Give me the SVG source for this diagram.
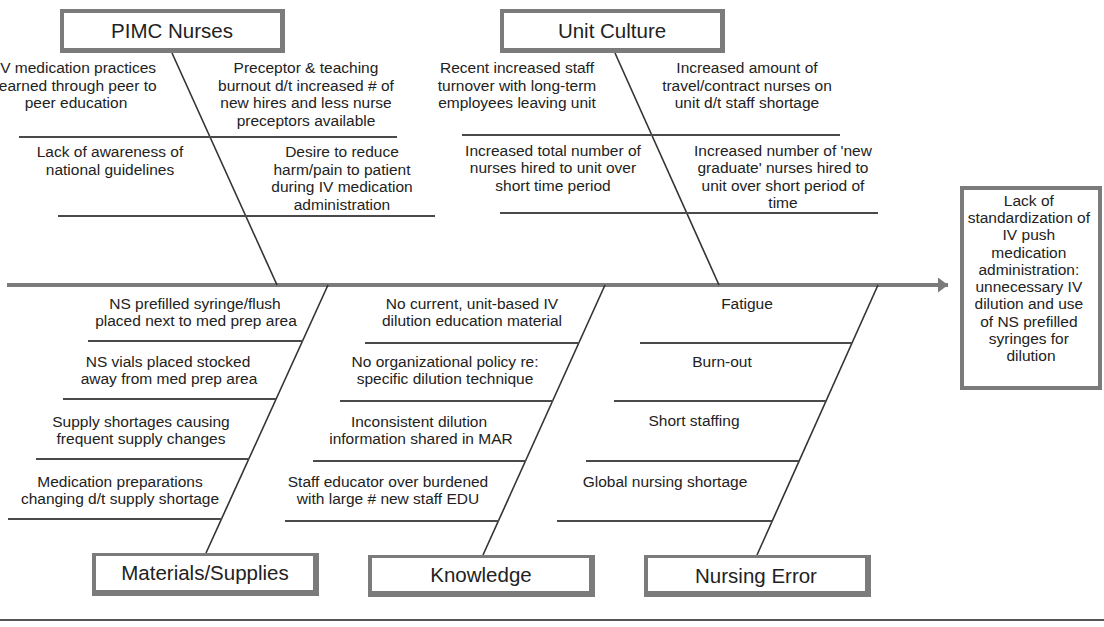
<svg xmlns="http://www.w3.org/2000/svg" width="1104" height="627" viewBox="0 0 1104 627">
<defs>
<style>
text{font-family:"Liberation Sans",Arial,sans-serif;fill:#222;text-anchor:middle}
.c{font-size:15.5px}
.t{font-size:20.5px}
.spine{stroke:#333;stroke-width:1.6;fill:none}
.sub{stroke:#4a4a4a;stroke-width:2;fill:none}
.box-o{fill:#7b7b7b}
.box-i{fill:#fff}
</style>
<marker id="ah" markerWidth="10" markerHeight="15" refX="10" refY="7.5" orient="auto" markerUnits="userSpaceOnUse">
<path d="M0,0 L10,7.5 L0,15 Z" fill="#7b7b7b"/>
</marker>
</defs>
<rect width="1104" height="627" fill="#fff"/>

<g id="connectors">
<line x1="7" y1="285" x2="948" y2="285" stroke="#7b7b7b" stroke-width="4" marker-end="url(#ah)"/>
<line class="spine" x1="172" y1="53" x2="277" y2="285"/>
<line class="spine" x1="615" y1="53" x2="719" y2="285"/>
<line class="spine" x1="328" y1="285" x2="206" y2="553"/>
<line class="spine" x1="605" y1="285" x2="483" y2="555"/>
<line class="spine" x1="878" y1="285" x2="757" y2="555"/>
<line class="sub" x1="19" y1="137" x2="397" y2="137"/>
<line class="sub" x1="58" y1="216" x2="435" y2="216"/>
<line class="sub" x1="462" y1="135" x2="840" y2="135"/>
<line class="sub" x1="500" y1="213" x2="878" y2="213"/>
<line class="sub" x1="88" y1="341" x2="303" y2="341"/>
<line class="sub" x1="63" y1="399" x2="276" y2="399"/>
<line class="sub" x1="36" y1="459" x2="249" y2="459"/>
<line class="sub" x1="8" y1="519" x2="222" y2="519"/>
<line class="sub" x1="365" y1="343" x2="579" y2="343"/>
<line class="sub" x1="340" y1="401" x2="553" y2="401"/>
<line class="sub" x1="313" y1="461" x2="526" y2="461"/>
<line class="sub" x1="285" y1="521" x2="499" y2="521"/>
<line class="sub" x1="640" y1="343" x2="852" y2="343"/>
<line class="sub" x1="614" y1="401" x2="826" y2="401"/>
<line class="sub" x1="586" y1="461" x2="799" y2="461"/>
<line class="sub" x1="557" y1="521" x2="772" y2="521"/>
<line x1="0" y1="620" x2="1104" y2="620" stroke="#555" stroke-width="2"/>
</g>

<g id="pimc-nurses">
<rect class="box-o" x="60" y="9" width="225" height="44"/>
<rect class="box-i" x="64" y="13" width="216" height="35"/>
<text class="t" x="172" y="38">PIMC Nurses</text>
</g>
<g id="unit-culture">
<rect class="box-o" x="500" y="9" width="225" height="44"/>
<rect class="box-i" x="504" y="13" width="216" height="35"/>
<text class="t" x="612" y="38">Unit Culture</text>
</g>
<g id="materials-supplies">
<rect class="box-o" x="92" y="553" width="227" height="43"/>
<rect class="box-i" x="96" y="556" width="217" height="34"/>
<text class="t" x="205" y="580">Materials/Supplies</text>
</g>
<g id="knowledge">
<rect class="box-o" x="368" y="555" width="227" height="42"/>
<rect class="box-i" x="372" y="558" width="217" height="33"/>
<text class="t" x="481" y="582">Knowledge</text>
</g>
<g id="nursing-error">
<rect class="box-o" x="644" y="555" width="227" height="42"/>
<rect class="box-i" x="648" y="558" width="217" height="33"/>
<text class="t" x="756" y="583">Nursing Error</text>
</g>
<g id="effect">
<rect class="box-o" x="960" y="186" width="142" height="204"/>
<rect class="box-i" x="964" y="190" width="134" height="196"/>
<text class="c">
<tspan x="1031" y="205.7">Lack of</tspan>
<tspan x="1031" y="223">standardization of</tspan>
<tspan x="1031" y="240.2">IV push</tspan>
<tspan x="1031" y="257.5">medication</tspan>
<tspan x="1031" y="274.7">administration:</tspan>
<tspan x="1031" y="292">unnecessary IV</tspan>
<tspan x="1031" y="309.3">dilution and use</tspan>
<tspan x="1031" y="326.5">of NS prefilled</tspan>
<tspan x="1031" y="343.8">syringes for</tspan>
<tspan x="1031" y="361">dilution</tspan>
</text>
</g>

<g id="cause-pimc-1"><text class="c"><tspan x="76" y="73">IV medication practices</tspan><tspan x="76" y="90.5">learned through peer to</tspan><tspan x="76" y="108">peer education</tspan></text></g>
<g id="cause-pimc-2"><text class="c"><tspan x="306" y="73">Preceptor &amp; teaching</tspan><tspan x="306" y="90.5">burnout d/t increased # of</tspan><tspan x="306" y="108">new hires and less nurse</tspan><tspan x="306" y="125.5">preceptors available</tspan></text></g>
<g id="cause-pimc-3"><text class="c"><tspan x="110" y="157">Lack of awareness of</tspan><tspan x="110" y="174.5">national guidelines</tspan></text></g>
<g id="cause-pimc-4"><text class="c"><tspan x="342" y="157">Desire to reduce</tspan><tspan x="342" y="174.5">harm/pain to patient</tspan><tspan x="342" y="192">during IV medication</tspan><tspan x="342" y="209.5">administration</tspan></text></g>

<g id="cause-unit-1"><text class="c"><tspan x="517" y="73">Recent increased staff</tspan><tspan x="517" y="90.5">turnover with long-term</tspan><tspan x="517" y="108">employees leaving unit</tspan></text></g>
<g id="cause-unit-2"><text class="c"><tspan x="747" y="73">Increased amount of</tspan><tspan x="747" y="90.5">travel/contract nurses on</tspan><tspan x="747" y="108">unit d/t staff shortage</tspan></text></g>
<g id="cause-unit-3"><text class="c"><tspan x="553" y="155.5">Increased total number of</tspan><tspan x="553" y="173">nurses hired to unit over</tspan><tspan x="553" y="190.5">short time period</tspan></text></g>
<g id="cause-unit-4"><text class="c"><tspan x="783" y="155.5">Increased number of 'new</tspan><tspan x="783" y="173">graduate' nurses hired to</tspan><tspan x="783" y="190.5">unit over short period of</tspan><tspan x="783" y="208">time</tspan></text></g>

<g id="cause-mat-1"><text class="c"><tspan x="195" y="308.5">NS prefilled syringe/flush</tspan><tspan x="196" y="326">placed next to med prep area</tspan></text></g>
<g id="cause-mat-2"><text class="c"><tspan x="168" y="366.5">NS vials placed stocked</tspan><tspan x="169" y="384">away from med prep area</tspan></text></g>
<g id="cause-mat-3"><text class="c"><tspan x="141" y="426.5">Supply shortages causing</tspan><tspan x="141" y="444">frequent supply changes</tspan></text></g>
<g id="cause-mat-4"><text class="c"><tspan x="120" y="486.5">Medication preparations</tspan><tspan x="120" y="504">changing d/t supply shortage</tspan></text></g>

<g id="cause-know-1"><text class="c"><tspan x="472" y="308.5">No current, unit-based IV</tspan><tspan x="472" y="326">dilution education material</tspan></text></g>
<g id="cause-know-2"><text class="c"><tspan x="445" y="366.5">No organizational policy re:</tspan><tspan x="445" y="384">specific dilution technique</tspan></text></g>
<g id="cause-know-3"><text class="c"><tspan x="419" y="426.5">Inconsistent dilution</tspan><tspan x="421" y="444">information shared in MAR</tspan></text></g>
<g id="cause-know-4"><text class="c"><tspan x="388" y="486.5">Staff educator over burdened</tspan><tspan x="388" y="504">with large # new staff EDU</tspan></text></g>

<g id="cause-err-1"><text class="c" x="747" y="308.5">Fatigue</text></g>
<g id="cause-err-2"><text class="c" x="722" y="366.5">Burn-out</text></g>
<g id="cause-err-3"><text class="c" x="694" y="425.5">Short staffing</text></g>
<g id="cause-err-4"><text class="c" x="665" y="486.5">Global nursing shortage</text></g>
</svg>
